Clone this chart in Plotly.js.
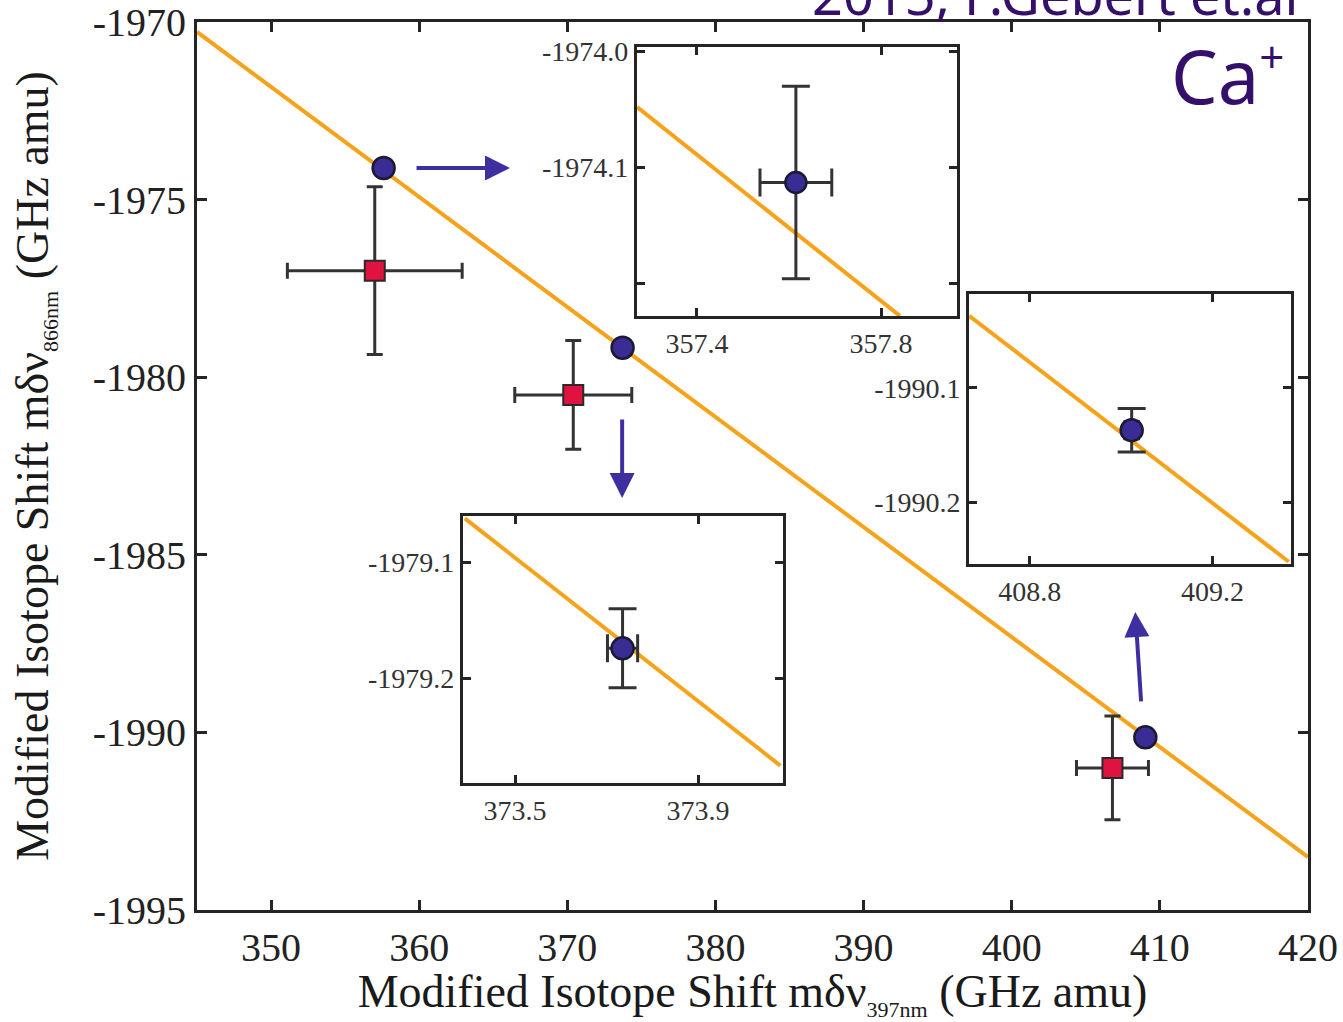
<!DOCTYPE html>
<html>
<head>
<meta charset="utf-8">
<script src="https://cdn.plot.ly/plotly-3.0.1.min.js"></script>
<style>
  html, body { margin: 0; padding: 0; background: #ffffff; }
  #chart { width: 1343px; height: 1022px; }
</style>
</head>
<body>
<div id="chart"></div>
<script>
// ---------------- DATA ----------------
// Main panel axis ticks
const mainXTicks = [350, 360, 370, 380, 390, 400, 410, 420];
const mainXTickText = ['350', '360', '370', '380', '390', '400', '410', '420'];
const mainYTicks = [-1970, -1975, -1980, -1985, -1990, -1995];
const mainYTickText = ['-1970', '-1975', '-1980', '-1985', '-1990', '-1995'];

// Fitted line (orange) in main panel
const lineX = [345, 420];
const lineY = [-1970.28, -1993.51];

// Experimental points (red squares) with error bars
const expX = [357.0, 370.4, 406.8];
const expY = [-1977.0, -1980.5, -1991.0];
const expXErr = [5.9, 3.95, 2.43];
const expYErr = [2.36, 1.53, 1.46];

// Precise points (blue circles)
const preciseX = [357.6, 373.73, 409.02];
const preciseY = [-1974.11, -1979.17, -1990.14];

// Inset 1 (around 357.6)
const in1X = [357.615];
const in1Y = [-1974.113];
const in1XErr = [0.078];
const in1YErr = [0.083];
const in1LineX = [357.27, 357.841];
const in1LineY = [-1974.048, -1974.228];
const in1XTicks = [357.4, 357.8];
const in1XTickText = ['357.4', '357.8'];
const in1YTicks = [-1974.0, -1974.1, -1974.2];
const in1YTickText = ['-1974.0', '-1974.1', ''];

// Inset 2 (around 373.7)
const in2X = [373.735];
const in2Y = [-1979.174];
const in2XErr = [0.033];
const in2YErr = [0.034];
const in2LineX = [373.39, 374.08];
const in2LineY = [-1979.062, -1979.275];
const in2XTicks = [373.5, 373.9];
const in2XTickText = ['373.5', '373.9'];
const in2YTicks = [-1979.1, -1979.2];
const in2YTickText = ['-1979.1', '-1979.2'];

// Inset 3 (around 409.0)
const in3X = [409.023];
const in3Y = [-1990.137];
const in3XErr = [0.015];
const in3YErr = [0.019];
const in3LineX = [408.667, 409.367];
const in3LineY = [-1990.037, -1990.252];
const in3XTicks = [408.8, 409.2];
const in3XTickText = ['408.8', '409.2'];
const in3YTicks = [-1990.1, -1990.2];
const in3YTickText = ['-1990.1', '-1990.2'];

// Arrows (tail -> head) in main-panel data coordinates
const arrowTailX = [359.72, 373.7, 408.74];
const arrowTailY = [-1974.11, -1981.15, -1989.17];
const arrowHeadX = [366.13, 373.7, 408.34];
const arrowHeadY = [-1974.11, -1983.40, -1986.61];

// ---------------- STYLE ----------------
const ORANGE = '#F6A31C';
const BLUE = '#3A2C95';
const RED = '#E0123F';
const DARK = '#242424';
const PURPLE = '#34106B';
const ARROW = '#3D2FA0';
const SERIF = 'Liberation Serif, Times New Roman, serif';

function errObj(arr, w) {
  return { type: 'data', array: arr, visible: true, color: '#333333', thickness: 3, width: w };
}

const traces = [
  { x: lineX, y: lineY, mode: 'lines', line: { color: ORANGE, width: 4 }, xaxis: 'x', yaxis: 'y', hoverinfo: 'skip', showlegend: false },
  { x: expX, y: expY, mode: 'markers', xaxis: 'x', yaxis: 'y', showlegend: false,
    marker: { symbol: 'square', size: 20, color: RED, line: { color: '#2a2a2a', width: 2 } },
    error_x: errObj(expXErr, 8), error_y: errObj(expYErr, 8) },
  { x: preciseX, y: preciseY, mode: 'markers', xaxis: 'x', yaxis: 'y', showlegend: false,
    marker: { symbol: 'circle', size: 22, color: BLUE, line: { color: '#1c1a33', width: 2.5 } } },

  { x: in1LineX, y: in1LineY, mode: 'lines', line: { color: ORANGE, width: 4 }, xaxis: 'x2', yaxis: 'y2', hoverinfo: 'skip', showlegend: false },
  { x: in1X, y: in1Y, mode: 'markers', xaxis: 'x2', yaxis: 'y2', showlegend: false,
    marker: { symbol: 'circle', size: 21, color: BLUE, line: { color: '#1c1a33', width: 2.5 } },
    error_x: errObj(in1XErr, 14), error_y: errObj(in1YErr, 14) },

  { x: in2LineX, y: in2LineY, mode: 'lines', line: { color: ORANGE, width: 4 }, xaxis: 'x3', yaxis: 'y3', hoverinfo: 'skip', showlegend: false },
  { x: in2X, y: in2Y, mode: 'markers', xaxis: 'x3', yaxis: 'y3', showlegend: false,
    marker: { symbol: 'circle', size: 22, color: BLUE, line: { color: '#1c1a33', width: 2.5 } },
    error_x: errObj(in2XErr, 14), error_y: errObj(in2YErr, 14) },

  { x: in3LineX, y: in3LineY, mode: 'lines', line: { color: ORANGE, width: 4 }, xaxis: 'x4', yaxis: 'y4', hoverinfo: 'skip', showlegend: false },
  { x: in3X, y: in3Y, mode: 'markers', xaxis: 'x4', yaxis: 'y4', showlegend: false,
    marker: { symbol: 'circle', size: 22, color: BLUE, line: { color: '#1c1a33', width: 2.5 } },
    error_x: errObj(in3XErr, 10), error_y: errObj(in3YErr, 14) }
];

function axis(opts) {
  return Object.assign({
    showline: true, linecolor: DARK, linewidth: 3, mirror: 'allticks',
    ticks: 'inside', tickcolor: DARK, tickwidth: 3, ticklen: 8,
    showgrid: false, zeroline: false, tickmode: 'array', fixedrange: true,
    tickfont: { family: SERIF, size: 28, color: '#333333' }
  }, opts);
}

const annotations = [];
for (let i = 0; i < arrowTailX.length; i++) {
  annotations.push({
    xref: 'x', yref: 'y', axref: 'x', ayref: 'y',
    x: arrowHeadX[i], y: arrowHeadY[i], ax: arrowTailX[i], ay: arrowTailY[i],
    text: '', showarrow: true, arrowhead: 2, arrowsize: 1.25, arrowwidth: 4,
    arrowcolor: ARROW, standoff: 0, startstandoff: 0
  });
}
annotations.push({
  xref: 'paper', yref: 'paper', x: 0.9805, y: 0.940, xanchor: 'right', yanchor: 'middle',
  text: 'Ca<sup><span style="font-size:44px">+</span></sup>', showarrow: false,
  font: { family: 'Noto Sans, sans-serif', size: 74, color: PURPLE }
});
annotations.push({
  xref: 'paper', yref: 'paper', x: 0.9937, y: 1.0315, xanchor: 'right', yanchor: 'middle',
  text: '2015, F.Gebert et.al', showarrow: false,
  font: { family: 'Noto Sans, sans-serif', size: 54, color: PURPLE }
});

const layout = {
  width: 1343, height: 1022, autosize: false,
  margin: { l: 197, r: 35, t: 22, b: 112, pad: 0 },
  paper_bgcolor: '#ffffff', plot_bgcolor: '#ffffff',
  showlegend: false,
  xaxis: axis({
    domain: [0, 1], range: [345, 420], anchor: 'y',
    tickvals: mainXTicks, ticktext: mainXTickText, ticklen: 10,
    tickfont: { family: SERIF, size: 40, color: '#222222' },
    title: { text: 'Modified Isotope Shift mδν<sub><span style="font-size:22px">397nm</span></sub> (GHz amu)',
             font: { family: SERIF, size: 46, color: '#1a1a1a' }, standoff: 14 }
  }),
  yaxis: axis({
    domain: [0, 1], range: [-1995, -1970], anchor: 'x',
    tickvals: mainYTicks, ticktext: mainYTickText, ticklen: 10,
    tickfont: { family: SERIF, size: 40, color: '#222222' },
    title: { text: 'Modified Isotope Shift mδν<sub><span style="font-size:22px">866nm</span></sub> (GHz amu)',
             font: { family: SERIF, size: 46, color: '#1a1a1a' }, standoff: 30 }
  }),
  xaxis2: axis({ domain: [0.396, 0.684], range: [357.2696, 357.965], anchor: 'y2', tickvals: in1XTicks, ticktext: in1XTickText }),
  yaxis2: axis({ domain: [0.669, 0.972], range: [-1974.228, -1973.996], anchor: 'x2', tickvals: in1YTicks, ticktext: in1YTickText }),
  xaxis3: axis({ domain: [0.2394, 0.5275], range: [373.386, 374.086], anchor: 'y3', tickvals: in2XTicks, ticktext: in2XTickText }),
  yaxis3: axis({ domain: [0.143, 0.4437], range: [-1979.29, -1979.06], anchor: 'x3', tickvals: in2YTicks, ticktext: in2YTickText }),
  xaxis4: axis({ domain: [0.695, 0.9847], range: [408.667, 409.372], anchor: 'y4', tickvals: in3XTicks, ticktext: in3XTickText }),
  yaxis4: axis({ domain: [0.3896, 0.6937], range: [-1990.254, -1990.018], anchor: 'x4', tickvals: in3YTicks, ticktext: in3YTickText }),
  annotations: annotations
};

Plotly.newPlot('chart', traces, layout, { displayModeBar: false, staticPlot: true });
</script>
</body>
</html>
